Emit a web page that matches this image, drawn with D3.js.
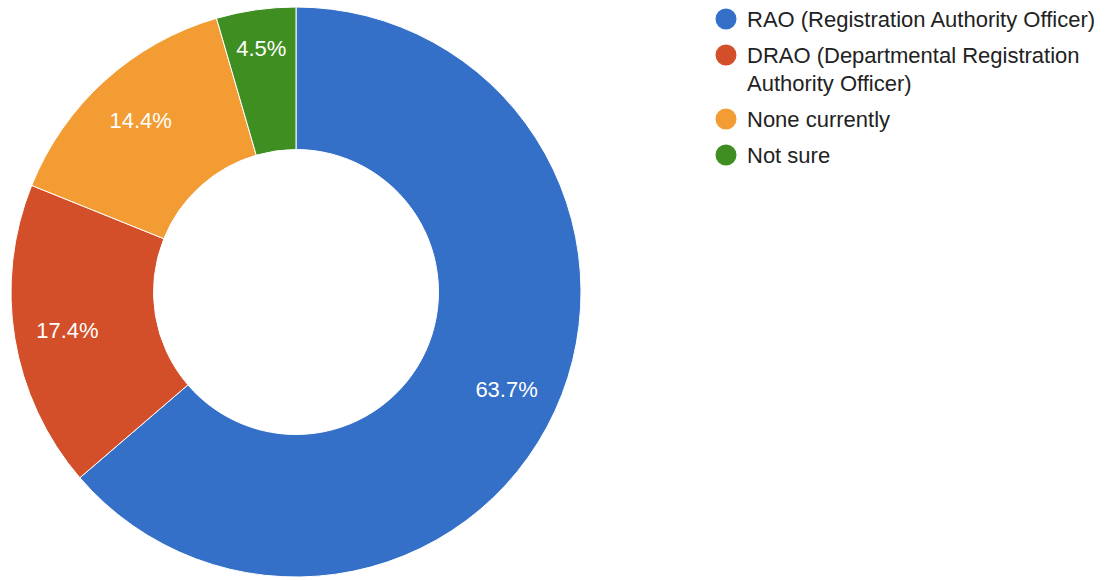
<!DOCTYPE html>
<html>
<head>
<meta charset="utf-8">
<script src="https://cdn.jsdelivr.net/npm/d3@7"></script>
<style>
  html, body { margin: 0; padding: 0; background: #fff; }
  svg { display: block; font-family: "Liberation Sans", Arial, Helvetica, sans-serif; }
</style>
</head>
<body>
<svg id="chart" width="1110" height="580"></svg>
<script>
// Survey answers and their shares (percent)
const categories = [
  "RAO (Registration Authority Officer)",
  "DRAO (Departmental Registration Authority Officer)",
  "None currently",
  "Not sure"
];
const shares = [63.7, 17.4, 14.4, 4.5];
const legendLines = [
  ["RAO (Registration Authority Officer)"],
  ["DRAO (Departmental Registration", "Authority Officer)"],
  ["None currently"],
  ["Not sure"]
];
const colors = ["#3470c8", "#d24f29", "#f29c33", "#3f8e22"];

const svg = d3.select("#chart");
const cx = 296, cy = 292, outerR = 285, innerR = 142.5;

const rows = categories.map((c, i) => ({ name: c, value: shares[i], color: colors[i], lines: legendLines[i] }));

const pie = d3.pie().value(d => d.value).sort(null);
const arc = d3.arc().innerRadius(innerR).outerRadius(outerR);
const arcs = pie(rows);

const g = svg.append("g").attr("transform", `translate(${cx},${cy})`);

g.selectAll("path.slice")
  .data(arcs)
  .join("path")
  .attr("class", "slice")
  .attr("d", arc)
  .attr("fill", d => d.data.color)
  .attr("stroke", "#ffffff")
  .attr("stroke-width", 1);

// Labels sit on a ring inside each slice; narrow slices push their label outward
g.selectAll("text.pct")
  .data(arcs)
  .join("text")
  .attr("class", "pct")
  .attr("transform", d => {
    const span = d.endAngle - d.startAngle;
    const r = span < 0.5 ? outerR * 0.863 : outerR * 0.813;
    const a = (d.startAngle + d.endAngle) / 2;
    return `translate(${r * Math.sin(a)},${-r * Math.cos(a)})`;
  })
  .attr("text-anchor", "middle")
  .attr("dy", "0.36em")
  .attr("fill", "#ffffff")
  .attr("font-size", 22)
  .text(d => d.data.value.toFixed(1) + "%");

// Legend
const legend = svg.append("g").attr("transform", "translate(726,0)");
const lineH = 28, rowGap = 8;
let y = 19;
rows.forEach(r => {
  const item = legend.append("g").attr("transform", `translate(0,${y})`);
  item.append("circle").attr("r", 10.5).attr("fill", r.color);
  r.lines.forEach((ln, k) => {
    item.append("text")
      .attr("x", 21)
      .attr("y", k * lineH)
      .attr("dy", "0.36em")
      .attr("font-size", 22)
      .attr("fill", "#222222")
      .text(ln);
  });
  y += r.lines.length * lineH + rowGap;
});
</script>
</body>
</html>
